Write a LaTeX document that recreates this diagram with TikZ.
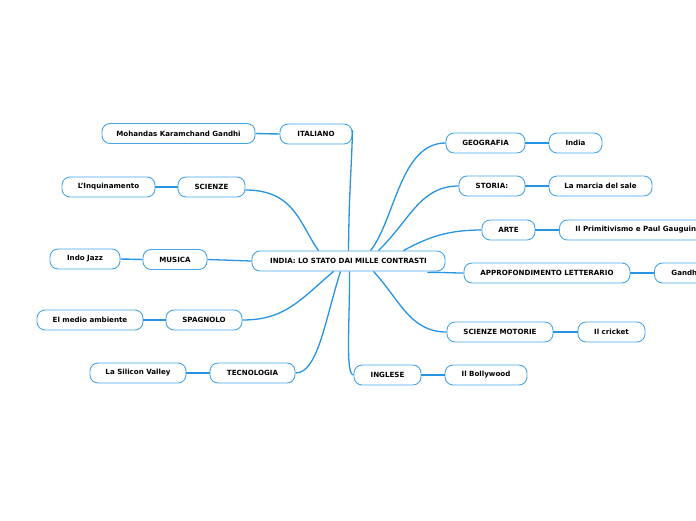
\documentclass[tikz,border=0pt]{standalone}
\usepackage{fontspec}
\setmainfont{DejaVu Sans}
\definecolor{mapblue}{RGB}{38,148,226}
\definecolor{boxblue}{RGB}{70,165,232}
\begin{document}
\begin{tikzpicture}[x=1pt, y=-1pt,
    topic/.style={draw=boxblue, line width=0.9pt, fill=white, rounded corners=8pt,
      minimum height=20pt, inner sep=0pt, font=\bfseries\fontsize{7.1}{8}\selectfont},
    branch/.style={draw=mapblue, line width=1.3pt},
    leaf/.style={draw=mapblue, line width=1.4pt}
  ]
    \useasboundingbox (0,0) rectangle (696,520);
    % main topics
    \node[topic, minimum width=193pt] (c) at (348.5,261) {INDIA: LO STATO DAI MILLE CONTRASTI};
    \node[topic, minimum width=72pt] (ita) at (316,134) {ITALIANO};
    \node[topic, minimum width=67pt] (sci) at (211.5,187) {SCIENZE};
    \node[topic, minimum width=64pt] (mus) at (175,259.5) {MUSICA};
    \node[topic, minimum width=76pt] (spa) at (204,320) {SPAGNOLO};
    \node[topic, minimum width=85pt] (tec) at (252.5,373) {TECNOLOGIA};
    \node[topic, minimum width=79pt] (geo) at (485.5,143) {GEOGRAFIA};
    \node[topic, minimum width=66pt] (sto) at (492,186) {STORIA:};
    \node[topic, minimum width=53pt] (art) at (508.5,230) {ARTE};
    \node[topic, minimum width=166pt] (app) at (547,273) {APPROFONDIMENTO LETTERARIO};
    \node[topic, minimum width=106pt] (smo) at (500,332) {SCIENZE MOTORIE};
    \node[topic, minimum width=67pt] (ing) at (387.5,375) {INGLESE};
    % subtopics
    \node[topic, minimum width=153pt] (gan) at (178.5,133.5) {Mohandas Karamchand Gandhi};
    \node[topic, minimum width=93pt] (inq) at (108.5,187) {L'Inquinamento};
    \node[topic, minimum width=70pt] (jaz) at (85,259) {Indo Jazz};
    \node[topic, minimum width=106pt] (amb) at (90,320) {El medio ambiente};
    \node[topic, minimum width=96pt] (sil) at (138,373) {La Silicon Valley};
    \node[topic, minimum width=53pt] (ind) at (575.5,143) {India};
    \node[topic, minimum width=103pt] (sal) at (600.5,186) {La marcia del sale};
    \node[topic, anchor=west, inner xsep=16pt] (gau) at (559,230) {Il Primitivismo e Paul Gauguin};
    \node[topic, anchor=west, inner xsep=17pt] (gdh) at (654,273) {Gandhi};
    \node[topic, minimum width=67pt] (cri) at (611.5,332) {Il cricket};
    \node[topic, minimum width=82pt] (bol) at (486,375) {Il Bollywood};
    % connectors
    \draw[branch] (c.north) .. controls (349,190) and (352,160) .. ([yshift=4pt]ita.east);
    \draw[branch] ([xshift=-30pt]c.north) .. controls (300,225) and (295,190) .. ([yshift=-3pt]sci.east);
    \draw[branch] (mus.east) -- (c.west);
    \draw[branch] ([xshift=-15pt]c.south) .. controls (300,300) and (285,320) .. (spa.east);
    \draw[branch] ([xshift=-8pt]c.south) .. controls (325,320) and (318,373) .. (tec.east);
    \draw[branch] ([xshift=22pt]c.north) .. controls (395,220) and (400,143) .. (geo.west);
    \draw[branch] ([xshift=30pt]c.north) .. controls (410,220) and (420,186) .. (sto.west);
    \draw[branch] ([xshift=55pt]c.north) .. controls (430,236) and (450,230) .. (art.west);
    \draw[branch] ([xshift=-18pt,yshift=-1pt]c.south east) .. controls (440,272) and (450,273) .. (app.west);
    \draw[branch] ([xshift=25pt]c.south) .. controls (400,300) and (410,332) .. (smo.west);
    \draw[branch] ([xshift=1pt]c.south) .. controls (350,320) and (345,375) .. (ing.west);
    \draw[leaf] (ita.west) -- (gan.east);
    \draw[leaf] (sci.west) -- (inq.east);
    \draw[leaf] (mus.west) -- (jaz.east);
    \draw[leaf] (spa.west) -- (amb.east);
    \draw[leaf] (tec.west) -- (sil.east);
    \draw[leaf] (geo.east) -- (ind.west);
    \draw[leaf] (sto.east) -- (sal.west);
    \draw[leaf] (art.east) -- (gau.west);
    \draw[leaf] (app.east) -- (gdh.west);
    \draw[leaf] (smo.east) -- (cri.west);
    \draw[leaf] (ing.east) -- (bol.west);
\end{tikzpicture}
\end{document}
